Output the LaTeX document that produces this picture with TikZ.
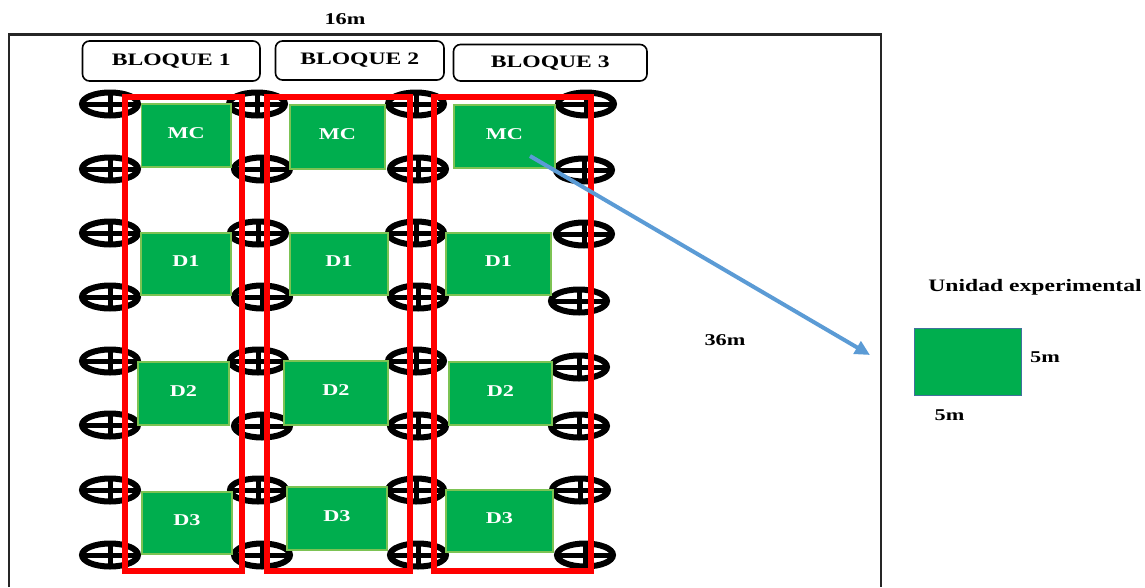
\documentclass[tikz,border=0pt]{standalone}
\usepackage{fontspec}
\setmainfont{Liberation Serif}[FakeStretch=1.35]
\usetikzlibrary{shapes.geometric,arrows.meta}
\definecolor{plotgreen}{HTML}{00AE4E}
\definecolor{plotedge}{HTML}{7CC353}
\definecolor{legendedge}{HTML}{41719C}
\definecolor{arrowblue}{HTML}{5B9BD5}
\tikzset{
  tree/.style={ellipse,draw=black,line width=6pt,minimum width=56pt,minimum height=23pt,inner sep=0pt,outer sep=0pt,
    path picture={
      \draw[line width=5pt] (path picture bounding box.west) -- (path picture bounding box.east);
      \draw[line width=5pt] (path picture bounding box.north) -- (path picture bounding box.south);
    }},
  plot/.style={draw=plotedge,line width=1.8pt,fill=plotgreen,text=white,font=\bfseries\fontsize{16.5}{18}\selectfont,inner sep=0pt,outer sep=0pt},
  blockbox/.style={draw=red,line width=6pt,inner sep=0pt,outer sep=0pt},
  blocklabel/.style={draw=black,line width=1.6pt,rounded corners=7pt,fill=white,font=\bfseries\fontsize{17.5}{19}\selectfont,inner sep=0pt,outer sep=0pt},
  caption/.style={font=\bfseries\fontsize{16.5}{18}\selectfont,inner sep=0pt},
}
% box: name, x0, x1, y0, y1, text
\newcommand{\plotbox}[6]{%
  \node[plot,minimum width={#3-#2},minimum height={#5-#4},anchor=north west] (#1) at (#2,#4) {\raisebox{5.5pt}{#6}};}
\newcommand{\redbox}[5]{%
  \node[blockbox,minimum width={#3-#2},minimum height={#5-#4},anchor=north west] (#1) at (#2,#4) {};}
\newcommand{\blockname}[6]{%
  \node[blocklabel,minimum width={#3-#2},minimum height={#5-#4},anchor=north west] (#1) at (#2,#4) {#6};}
\begin{document}
\begin{tikzpicture}[x=1pt,y=-1pt]
\useasboundingbox (0,0) rectangle (1145,587);
% field outline
\coordinate (fbl) at (9,587);
\coordinate (ftl) at (9,34.5);
\coordinate (ftr) at (881,34.5);
\coordinate (fbr) at (881,587);
\draw[line width=2.3pt,black!85] (fbl) -- (ftl) -- (ftr) -- (fbr);
\node[caption] (top) at (345,19) {16m};
\node[caption] (side) at (725,340) {36m};
% block labels
\blockname{b1}{82.5}{260}{41}{81}{BLOQUE 1}
\blockname{b2}{275.5}{444}{41}{80}{BLOQUE 2}
\blockname{b3}{453.5}{647}{44.5}{81}{BLOQUE 3}
% trees
\foreach \n/\x/\y in {
 a1/110/104,a2/110/169,a3/110/233,a4/110/297,a5/110/361,a6/110/425,a7/110/490,a8/110/555,
 e1/257/104,e2/262/169,e3/258/233,e4/262/297,e5/258/361,e6/262/426,e7/258/490,e8/262/555,
 c1/416/104,c2/418/169,c3/416/233,c4/418/297,c5/416/361,c6/418/426,c7/416/490,c8/418/555,
 d1/586/104,d2/584/170,d3/584/234,d4/579/301,d5/579/367,d6/579/426,d7/580/490,d8/585/555}
 {\node[tree] (t\n) at (\x,\y) {};}
% plots
\plotbox{p11}{141.5}{231}{104}{167}{MC}
\plotbox{p12}{290}{385}{105}{169}{MC}
\plotbox{p13}{454}{555}{105}{168}{MC}
\plotbox{p21}{141}{231}{233}{295}{D1}
\plotbox{p22}{290}{388}{233}{295}{D1}
\plotbox{p23}{446}{551}{233}{295}{D1}
\plotbox{p31}{138}{229}{362}{425}{D2}
\plotbox{p32}{284}{388}{361}{425}{D2}
\plotbox{p33}{449}{552}{362}{425}{D2}
\plotbox{p41}{142}{232}{492}{554}{D3}
\plotbox{p42}{287}{387}{487}{550}{D3}
\plotbox{p43}{446}{553}{490}{552}{D3}
% red block frames
\redbox{r1}{125}{242}{97}{571}
\redbox{r2}{267}{410}{97}{571}
\redbox{r3}{434}{591}{97}{571}
% arrow
\coordinate (arrowstart) at (530,156);
\coordinate (arrowend) at (870,355);
\draw[arrowblue,line width=4pt,-{Triangle[length=15pt,width=14pt]}] (arrowstart) -- (arrowend);
% legend
\node[caption] (legendtitle) at (1035,287.5) {\fontsize{17.5}{19}\selectfont Unidad experimental};
\node[draw=legendedge,line width=1.5pt,fill=plotgreen,minimum width=107pt,minimum height=67pt,inner sep=0pt,outer sep=0pt,anchor=north west] (legend) at (914.5,328.5) {};
\node[caption] (w5) at (1045,357) {5m};
\node[caption] (h5) at (949.5,415) {5m};
\end{tikzpicture}
\end{document}
